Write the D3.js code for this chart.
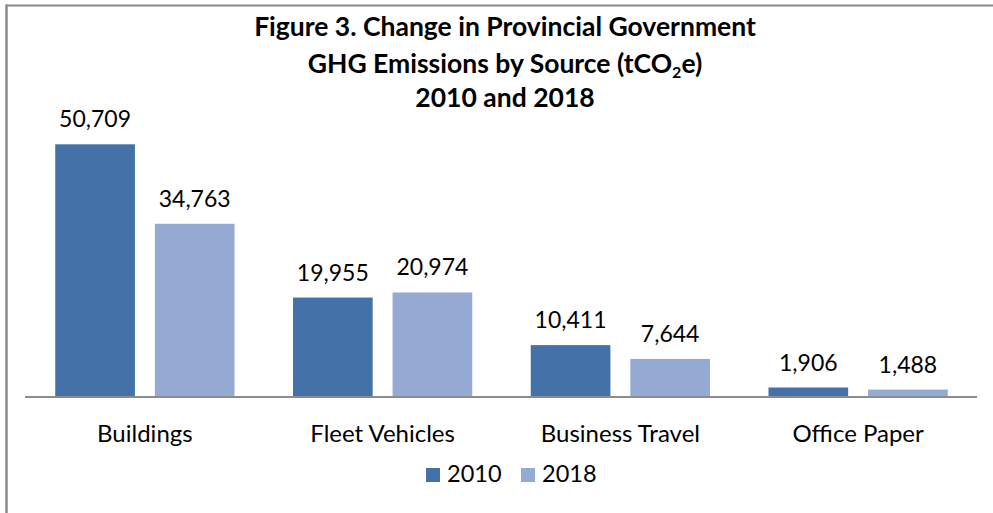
<!DOCTYPE html>
<html>
<head>
<meta charset="utf-8">
<script src="https://cdn.jsdelivr.net/npm/d3@7"></script>
<style>
  html, body { margin: 0; padding: 0; background: #fff; }
  svg { display: block; }
  text { font-family: Lato, "Open Sans", sans-serif; fill: #000; }
</style>
</head>
<body>
<svg id="chart" width="993" height="513"></svg>
<script>
const categories = ["Buildings", "Fleet Vehicles", "Business Travel", "Office Paper"];
const seriesNames = ["2010", "2018"];
const values2010 = [50709, 19955, 10411, 1906];
const values2018 = [34763, 20974, 7644, 1488];
const seriesColors = ["#4472a8", "#95aad3"];
const yMax = 60000;

const W = 993, H = 513;
const svg = d3.select("#chart");

// frame
svg.append("line").attr("x1", 6).attr("x2", W).attr("y1", 5.5).attr("y2", 5.5)
  .attr("stroke", "#8a8a8a").attr("stroke-width", 2);
svg.append("line").attr("x1", 6.5).attr("x2", 6.5).attr("y1", 4.5).attr("y2", H)
  .attr("stroke", "#8a8a8a").attr("stroke-width", 2.5);

const plot = { left: 26, right: 977, top: 98, bottom: 397 };

const x0 = d3.scaleBand().domain(categories).range([plot.left, plot.right])
  .paddingInner(0.246).paddingOuter(0.123);
const x1 = d3.scaleBand().domain(seriesNames).range([0, x0.bandwidth()]).paddingInner(0.2);
const y = d3.scaleLinear().domain([0, yMax]).range([plot.bottom, plot.top]);
const color = d3.scaleOrdinal().domain(seriesNames).range(seriesColors);

const rows = categories.map((c, i) => ({
  cat: c,
  vals: [{ s: "2010", v: values2010[i] }, { s: "2018", v: values2018[i] }]
}));

const g = svg.selectAll("g.cat").data(rows).enter().append("g")
  .attr("class", "cat").attr("transform", d => `translate(${x0(d.cat)},0)`);

g.selectAll("rect").data(d => d.vals).enter().append("rect")
  .attr("x", d => x1(d.s)).attr("width", x1.bandwidth())
  .attr("y", d => y(d.v)).attr("height", d => y(0) - y(d.v))
  .attr("fill", d => color(d.s));

const fmt = d3.format(",");
g.selectAll("text.val").data(d => d.vals).enter().append("text")
  .attr("class", "val")
  .attr("x", d => x1(d.s) + x1.bandwidth() / 2)
  .attr("y", d => y(d.v) - 17)
  .attr("text-anchor", "middle")
  .style("font-size", "23px")
  .text(d => fmt(d.v));

// axis
const xAxis = d3.axisBottom(x0).tickSize(0).tickPadding(0);
const ax = svg.append("g").attr("transform", `translate(0,${plot.bottom})`).call(xAxis);
ax.select(".domain").attr("stroke", "#8c8c8c").attr("stroke-width", 2.2)
  .attr("d", `M${plot.left - 1},0H${plot.right}`);
ax.selectAll(".tick text").attr("dy", 0).attr("y", 45)
  .style("font-size", "24px").style("font-family", "Lato, sans-serif").attr("fill", "#000");

// title
const title = svg.append("text").attr("text-anchor", "middle")
  .style("font-weight", "bold").style("font-size", "26.5px");
title.append("tspan").attr("x", 505).attr("y", 36).text("Figure 3. Change in Provincial Government");
const l2 = title.append("tspan").attr("x", 505).attr("y", 73);
l2.append("tspan").text("GHG Emissions by Source (tCO");
l2.append("tspan").attr("dy", 5).style("font-size", "16px").text("2");
l2.append("tspan").attr("dy", -5).text("e)");
title.append("tspan").attr("x", 505).attr("y", 107).text("2010 and 2018");

// legend
const legend = svg.append("g");
const legItems = [{ s: "2010", x: 426 }, { s: "2018", x: 521 }];
legItems.forEach(it => {
  legend.append("rect").attr("x", it.x).attr("y", 468).attr("width", 14).attr("height", 14)
    .attr("fill", color(it.s));
  legend.append("text").attr("x", it.x + 21).attr("y", 482).style("font-size", "23.5px").text(it.s);
});
</script>
</body>
</html>
